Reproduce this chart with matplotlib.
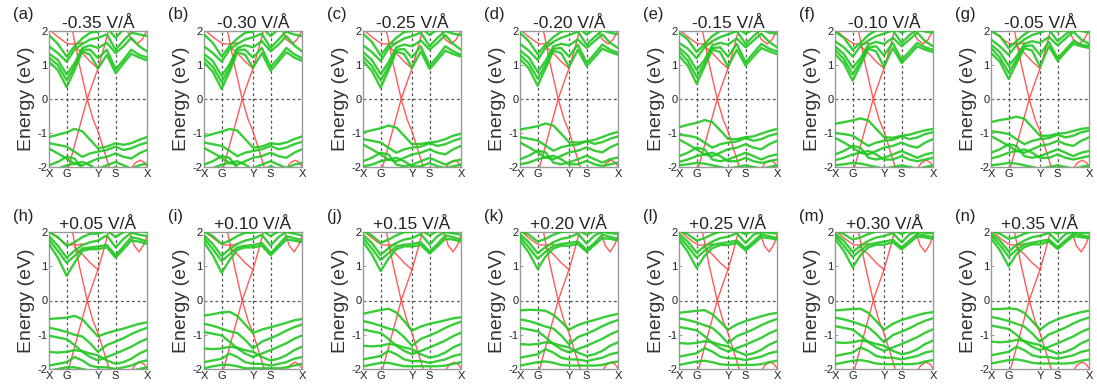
import matplotlib
matplotlib.use("Agg")
import matplotlib.pyplot as plt

plt.rcParams['font.family'] = ['Liberation Sans', 'DejaVu Sans']

# k-path sample positions: X, ., G, ., ., ., Y, ., S, ., ., ., X
K = [0.0, 0.09, 0.18, 0.26, 0.34, 0.42, 0.50, 0.59, 0.68, 0.76, 0.84, 0.92, 1.0]
K_TICKS = [0.0, 0.18, 0.50, 0.68, 1.0]
K_LABELS = ['X', 'G', 'Y', 'S', 'X']
E_TICKS = [-2, -1, 0, 1, 2]

LETTERS = ['(a)', '(b)', '(c)', '(d)', '(e)', '(f)', '(g)',
           '(h)', '(i)', '(j)', '(k)', '(l)', '(m)', '(n)']
FIELDS = ['-0.35 V/Å', '-0.30 V/Å', '-0.25 V/Å', '-0.20 V/Å', '-0.15 V/Å', '-0.10 V/Å', '-0.05 V/Å',
          '+0.05 V/Å', '+0.10 V/Å', '+0.15 V/Å', '+0.20 V/Å', '+0.25 V/Å', '+0.30 V/Å', '+0.35 V/Å']

# ---- green conduction bands (eV at K) ----
COND_A = [[1.10, 0.85, 0.35, 0.85, 1.40, 1.30, 0.90, 1.30, 0.76, 1.05, 1.33, 1.22, 1.14],
          [1.22, 1.00, 0.55, 0.95, 1.45, 1.45, 1.20, 1.45, 0.88, 1.15, 1.45, 1.30, 1.22],
          [1.33, 1.15, 0.72, 1.05, 1.50, 1.58, 1.50, 1.65, 1.35, 1.55, 1.80, 1.55, 1.40],
          [1.55, 1.35, 1.10, 1.45, 1.62, 1.75, 1.80, 1.90, 1.45, 1.72, 1.95, 1.90, 1.85],
          [1.88, 1.62, 1.25, 1.55, 1.78, 1.95, 1.98, 2.10, 1.80, 2.05, 2.10, 2.05, 2.05]]
COND_B = [[1.08, 0.80, 0.30, 0.80, 1.38, 1.30, 0.92, 1.35, 0.83, 1.10, 1.38, 1.22, 1.12],
          [1.20, 0.95, 0.50, 0.92, 1.45, 1.45, 1.22, 1.50, 0.95, 1.20, 1.50, 1.32, 1.20],
          [1.32, 1.12, 0.68, 1.02, 1.50, 1.58, 1.52, 1.70, 1.40, 1.60, 1.85, 1.58, 1.40],
          [1.55, 1.35, 1.10, 1.45, 1.62, 1.75, 1.82, 1.92, 1.50, 1.75, 1.98, 1.90, 1.85],
          [1.90, 1.65, 1.25, 1.55, 1.78, 1.95, 1.98, 2.10, 1.85, 2.05, 2.10, 2.05, 2.05]]
COND_C = [[1.12, 0.83, 0.33, 0.85, 1.40, 1.32, 0.92, 1.40, 0.88, 1.15, 1.42, 1.32, 1.25],
          [1.25, 0.98, 0.54, 0.95, 1.45, 1.47, 1.22, 1.55, 0.98, 1.25, 1.55, 1.40, 1.30],
          [1.38, 1.15, 0.73, 1.08, 1.52, 1.60, 1.55, 1.72, 1.45, 1.65, 1.88, 1.62, 1.45],
          [1.58, 1.38, 1.12, 1.48, 1.65, 1.78, 1.85, 1.95, 1.55, 1.80, 2.00, 1.92, 1.88],
          [1.92, 1.68, 1.28, 1.58, 1.80, 1.97, 2.00, 2.10, 1.88, 2.05, 2.10, 2.05, 2.05]]
COND_D = [[1.18, 0.90, 0.39, 0.90, 1.42, 1.35, 0.95, 1.45, 0.97, 1.22, 1.48, 1.38, 1.30],
          [1.30, 1.05, 0.60, 1.00, 1.48, 1.50, 1.25, 1.60, 1.07, 1.32, 1.60, 1.45, 1.36],
          [1.42, 1.22, 0.80, 1.12, 1.55, 1.62, 1.58, 1.75, 1.50, 1.70, 1.90, 1.65, 1.50],
          [1.62, 1.42, 1.15, 1.50, 1.68, 1.80, 1.88, 1.98, 1.60, 1.82, 2.02, 1.95, 1.90],
          [1.95, 1.70, 1.32, 1.60, 1.82, 1.98, 2.02, 2.10, 1.90, 2.05, 2.10, 2.05, 2.05]]
COND_E = [[1.27, 0.98, 0.45, 0.95, 1.45, 1.38, 0.95, 1.45, 0.98, 1.25, 1.50, 1.40, 1.32],
          [1.41, 1.12, 0.65, 1.05, 1.50, 1.52, 1.25, 1.62, 1.08, 1.35, 1.62, 1.48, 1.40],
          [1.51, 1.28, 0.85, 1.15, 1.58, 1.65, 1.60, 1.78, 1.52, 1.72, 1.92, 1.68, 1.52],
          [1.65, 1.48, 1.20, 1.52, 1.70, 1.82, 1.90, 2.00, 1.62, 1.85, 2.05, 1.95, 1.92],
          [1.95, 1.75, 1.38, 1.62, 1.85, 2.00, 2.05, 2.10, 1.92, 2.05, 2.10, 2.05, 2.05]]
COND_F = [[1.32, 1.05, 0.54, 1.00, 1.48, 1.40, 0.95, 1.50, 1.06, 1.30, 1.55, 1.45, 1.38],
          [1.45, 1.18, 0.72, 1.10, 1.52, 1.55, 1.28, 1.65, 1.15, 1.40, 1.65, 1.52, 1.45],
          [1.55, 1.32, 0.92, 1.20, 1.60, 1.68, 1.62, 1.80, 1.55, 1.75, 1.95, 1.70, 1.55],
          [1.70, 1.52, 1.25, 1.55, 1.72, 1.85, 1.92, 2.02, 1.65, 1.88, 2.05, 1.98, 1.95],
          [1.98, 1.80, 1.45, 1.65, 1.88, 2.02, 2.05, 2.10, 1.95, 2.05, 2.10, 2.05, 2.05]]
COND_G = [[1.35, 1.10, 0.59, 1.05, 1.50, 1.42, 0.95, 1.55, 1.12, 1.38, 1.62, 1.55, 1.50],
          [1.50, 1.22, 0.78, 1.15, 1.55, 1.58, 1.30, 1.68, 1.20, 1.45, 1.70, 1.60, 1.55],
          [1.60, 1.38, 0.98, 1.25, 1.62, 1.70, 1.65, 1.82, 1.58, 1.78, 1.98, 1.75, 1.62],
          [1.75, 1.55, 1.30, 1.58, 1.75, 1.88, 1.95, 2.05, 1.70, 1.90, 2.08, 2.00, 1.95],
          [2.00, 1.85, 1.50, 1.70, 1.90, 2.05, 2.05, 2.10, 1.98, 2.05, 2.10, 2.05, 2.05]]
COND_H = [[1.65, 1.25, 0.72, 1.10, 1.45, 1.50, 1.50, 1.55, 1.25, 1.50, 1.75, 1.72, 1.65],
          [1.78, 1.45, 1.10, 1.30, 1.52, 1.55, 1.58, 1.62, 1.32, 1.58, 1.85, 1.80, 1.72],
          [1.88, 1.60, 1.25, 1.45, 1.62, 1.70, 1.75, 1.90, 1.55, 1.80, 1.98, 1.92, 1.88],
          [2.00, 1.85, 1.60, 1.70, 1.85, 1.95, 1.95, 2.05, 1.85, 2.00, 2.08, 2.05, 2.00]]
COND_I = [[1.70, 1.32, 0.81, 1.18, 1.48, 1.55, 1.55, 1.60, 1.32, 1.55, 1.78, 1.75, 1.70],
          [1.82, 1.50, 1.15, 1.35, 1.55, 1.60, 1.62, 1.68, 1.38, 1.62, 1.88, 1.82, 1.76],
          [1.90, 1.65, 1.30, 1.50, 1.65, 1.75, 1.80, 1.92, 1.60, 1.85, 2.00, 1.95, 1.90],
          [2.02, 1.88, 1.65, 1.75, 1.88, 1.98, 1.98, 2.05, 1.88, 2.02, 2.08, 2.05, 2.02]]
COND_J = [[1.72, 1.35, 0.86, 1.22, 1.50, 1.58, 1.58, 1.62, 1.37, 1.58, 1.80, 1.78, 1.72],
          [1.84, 1.52, 1.18, 1.38, 1.58, 1.63, 1.65, 1.70, 1.43, 1.65, 1.90, 1.85, 1.78],
          [1.92, 1.68, 1.33, 1.53, 1.68, 1.78, 1.82, 1.94, 1.63, 1.88, 2.00, 1.96, 1.92],
          [2.03, 1.90, 1.68, 1.78, 1.90, 2.00, 2.00, 2.06, 1.90, 2.03, 2.08, 2.05, 2.03]]
COND_K = [[1.75, 1.40, 0.92, 1.28, 1.52, 1.60, 1.60, 1.65, 1.42, 1.62, 1.82, 1.80, 1.75],
          [1.86, 1.55, 1.22, 1.42, 1.60, 1.65, 1.68, 1.72, 1.48, 1.68, 1.92, 1.86, 1.80],
          [1.94, 1.70, 1.38, 1.56, 1.70, 1.80, 1.84, 1.95, 1.66, 1.90, 2.00, 1.97, 1.94],
          [2.04, 1.92, 1.72, 1.80, 1.92, 2.00, 2.02, 2.06, 1.92, 2.03, 2.08, 2.05, 2.04]]
COND_L = [[1.78, 1.42, 0.95, 1.30, 1.53, 1.62, 1.62, 1.68, 1.46, 1.65, 1.85, 1.82, 1.78],
          [1.88, 1.58, 1.25, 1.45, 1.62, 1.67, 1.70, 1.75, 1.52, 1.72, 1.93, 1.88, 1.82],
          [1.95, 1.72, 1.40, 1.58, 1.72, 1.82, 1.86, 1.96, 1.68, 1.92, 2.00, 1.98, 1.95],
          [2.05, 1.93, 1.75, 1.82, 1.93, 2.01, 2.03, 2.06, 1.93, 2.04, 2.08, 2.05, 2.05]]
COND_M = [[1.80, 1.45, 0.97, 1.32, 1.55, 1.63, 1.63, 1.70, 1.49, 1.68, 1.87, 1.84, 1.80],
          [1.90, 1.60, 1.27, 1.47, 1.63, 1.68, 1.72, 1.77, 1.55, 1.75, 1.94, 1.90, 1.85],
          [1.96, 1.74, 1.42, 1.60, 1.74, 1.84, 1.88, 1.97, 1.70, 1.93, 2.01, 1.98, 1.96],
          [2.05, 1.94, 1.78, 1.84, 1.94, 2.02, 2.04, 2.06, 1.94, 2.04, 2.08, 2.05, 2.05]]
COND_N = [[1.82, 1.47, 1.00, 1.35, 1.56, 1.64, 1.64, 1.72, 1.50, 1.70, 1.88, 1.85, 1.82],
          [1.92, 1.62, 1.28, 1.48, 1.64, 1.69, 1.73, 1.78, 1.56, 1.76, 1.95, 1.91, 1.86],
          [1.97, 1.75, 1.43, 1.62, 1.75, 1.85, 1.89, 1.97, 1.72, 1.94, 2.01, 1.98, 1.97],
          [2.05, 1.95, 1.80, 1.85, 1.95, 2.02, 2.04, 2.06, 1.95, 2.04, 2.08, 2.05, 2.05]]

# ---- green valence bands (eV at K) ----
VAL_A = [[-1.12, -1.05, -0.98, -0.88, -0.95, -1.20, -1.45, -1.40, -1.30, -1.35, -1.30, -1.20, -1.12],
         [-1.30, -1.35, -1.40, -1.55, -1.70, -1.60, -1.55, -1.50, -1.40, -1.50, -1.45, -1.35, -1.28],
         [-1.46, -1.60, -1.75, -1.90, -1.95, -1.85, -1.75, -1.70, -1.60, -1.70, -1.75, -1.60, -1.50],
         [-1.95, -1.85, -1.70, -1.75, -2.05, -2.10, -2.05, -1.95, -1.85, -1.95, -2.05, -1.95, -1.90],
         [-2.10, -2.05, -1.95, -1.90, -1.85, -1.95, -2.10, -2.10, -2.00, -2.10, -2.15, -2.10, -2.05]]
VAL_B = [[-1.10, -1.03, -0.96, -0.88, -0.93, -1.18, -1.43, -1.40, -1.30, -1.33, -1.28, -1.18, -1.10],
         [-1.28, -1.33, -1.38, -1.52, -1.68, -1.58, -1.53, -1.48, -1.38, -1.48, -1.43, -1.33, -1.26],
         [-1.44, -1.58, -1.73, -1.88, -1.93, -1.83, -1.73, -1.68, -1.58, -1.68, -1.73, -1.58, -1.48],
         [-1.93, -1.83, -1.68, -1.73, -2.03, -2.08, -2.03, -1.93, -1.83, -1.93, -2.03, -1.93, -1.88],
         [-2.08, -2.03, -1.93, -1.88, -1.83, -1.93, -2.08, -2.08, -1.98, -2.08, -2.13, -2.08, -2.03]]
VAL_C = [[-0.98, -0.92, -0.86, -0.78, -0.84, -1.08, -1.33, -1.32, -1.28, -1.25, -1.18, -1.08, -1.02],
         [-1.18, -1.23, -1.28, -1.43, -1.58, -1.48, -1.43, -1.40, -1.30, -1.38, -1.33, -1.23, -1.16],
         [-1.34, -1.48, -1.63, -1.78, -1.83, -1.73, -1.63, -1.58, -1.48, -1.58, -1.63, -1.48, -1.38],
         [-1.83, -1.73, -1.58, -1.63, -1.93, -1.98, -1.93, -1.83, -1.73, -1.83, -1.93, -1.83, -1.78],
         [-1.98, -1.93, -1.83, -1.78, -1.73, -1.83, -1.98, -1.98, -1.88, -1.98, -2.03, -1.98, -1.93]]
VAL_D = [[-0.90, -0.85, -0.80, -0.72, -0.78, -1.02, -1.27, -1.28, -1.25, -1.20, -1.12, -1.03, -0.97],
         [-1.12, -1.17, -1.22, -1.37, -1.52, -1.42, -1.37, -1.34, -1.24, -1.32, -1.27, -1.17, -1.10],
         [-1.28, -1.42, -1.57, -1.72, -1.77, -1.67, -1.57, -1.52, -1.42, -1.52, -1.57, -1.42, -1.32],
         [-1.77, -1.67, -1.52, -1.57, -1.87, -1.92, -1.87, -1.77, -1.67, -1.77, -1.87, -1.77, -1.72],
         [-1.92, -1.87, -1.77, -1.72, -1.67, -1.77, -1.92, -1.92, -1.82, -1.92, -1.97, -1.92, -1.87]]
VAL_E = [[-0.83, -0.76, -0.70, -0.62, -0.68, -0.92, -1.17, -1.18, -1.12, -1.10, -1.02, -0.94, -0.88],
         [-1.05, -1.08, -1.13, -1.28, -1.43, -1.33, -1.28, -1.25, -1.15, -1.23, -1.18, -1.08, -1.02],
         [-1.19, -1.33, -1.48, -1.63, -1.68, -1.58, -1.48, -1.43, -1.33, -1.43, -1.48, -1.33, -1.23],
         [-1.68, -1.58, -1.43, -1.48, -1.78, -1.83, -1.78, -1.68, -1.58, -1.68, -1.78, -1.68, -1.63],
         [-1.85, -1.78, -1.68, -1.63, -1.58, -1.68, -1.83, -1.83, -1.73, -1.83, -1.88, -1.83, -1.78],
         [-1.95, -1.92, -1.88, -1.90, -1.95, -2.00, -2.05, -2.00, -1.95, -2.00, -2.05, -2.00, -1.95]]
VAL_F = [[-0.73, -0.68, -0.63, -0.57, -0.63, -0.88, -1.12, -1.14, -1.08, -1.05, -0.98, -0.92, -0.88],
         [-1.00, -1.03, -1.08, -1.23, -1.38, -1.28, -1.23, -1.20, -1.10, -1.18, -1.13, -1.03, -0.98],
         [-1.14, -1.28, -1.43, -1.58, -1.63, -1.53, -1.43, -1.38, -1.28, -1.38, -1.43, -1.28, -1.18],
         [-1.63, -1.53, -1.38, -1.43, -1.73, -1.78, -1.73, -1.63, -1.53, -1.63, -1.73, -1.63, -1.58],
         [-1.80, -1.73, -1.63, -1.58, -1.53, -1.63, -1.78, -1.78, -1.68, -1.78, -1.83, -1.78, -1.73],
         [-1.95, -1.92, -1.88, -1.90, -1.95, -2.00, -2.05, -2.00, -1.95, -2.00, -2.05, -2.00, -1.95]]
VAL_G = [[-0.68, -0.62, -0.58, -0.52, -0.58, -0.83, -1.08, -1.08, -1.02, -1.00, -0.94, -0.88, -0.85],
         [-0.95, -0.98, -1.03, -1.18, -1.33, -1.23, -1.18, -1.15, -1.05, -1.13, -1.08, -0.98, -0.93],
         [-1.09, -1.23, -1.38, -1.53, -1.58, -1.48, -1.38, -1.33, -1.23, -1.33, -1.38, -1.23, -1.13],
         [-1.58, -1.48, -1.33, -1.38, -1.68, -1.73, -1.68, -1.58, -1.48, -1.58, -1.68, -1.58, -1.53],
         [-1.75, -1.68, -1.58, -1.53, -1.48, -1.58, -1.73, -1.73, -1.63, -1.73, -1.78, -1.73, -1.68],
         [-1.95, -1.92, -1.88, -1.90, -1.95, -2.00, -2.05, -2.00, -1.95, -2.00, -2.05, -2.00, -1.95]]
VAL_H = [[-0.54, -0.52, -0.50, -0.45, -0.55, -0.80, -1.05, -0.95, -0.88, -0.82, -0.75, -0.68, -0.64],
         [-0.79, -0.85, -0.92, -1.00, -1.05, -1.25, -1.50, -1.30, -1.20, -1.10, -0.98, -0.88, -0.80],
         [-1.03, -1.08, -1.13, -1.30, -1.50, -1.65, -1.75, -1.65, -1.55, -1.45, -1.35, -1.22, -1.12],
         [-1.50, -1.52, -1.50, -1.45, -1.48, -1.55, -1.60, -1.75, -1.85, -1.80, -1.70, -1.55, -1.45],
         [-1.90, -1.85, -1.80, -1.65, -1.75, -1.90, -1.95, -1.95, -2.00, -1.95, -1.90, -1.80, -1.75],
         [-2.05, -2.00, -1.95, -1.95, -2.00, -2.05, -2.05, -2.05, -2.05, -2.05, -2.05, -2.00, -1.95]]
VAL_I = [[-0.44, -0.40, -0.35, -0.33, -0.45, -0.70, -0.95, -0.85, -0.78, -0.72, -0.65, -0.58, -0.54],
         [-0.68, -0.74, -0.82, -0.90, -0.95, -1.15, -1.40, -1.20, -1.10, -1.00, -0.88, -0.78, -0.70],
         [-0.92, -0.97, -1.02, -1.20, -1.40, -1.55, -1.65, -1.55, -1.45, -1.35, -1.25, -1.12, -1.02],
         [-1.40, -1.42, -1.40, -1.35, -1.38, -1.45, -1.50, -1.65, -1.75, -1.70, -1.60, -1.45, -1.35],
         [-1.80, -1.75, -1.70, -1.55, -1.65, -1.80, -1.85, -1.85, -1.90, -1.85, -1.80, -1.70, -1.65],
         [-1.98, -1.92, -1.88, -1.88, -1.92, -1.98, -1.98, -1.98, -1.98, -1.98, -1.95, -1.90, -1.85]]
VAL_J = [[-0.39, -0.33, -0.28, -0.24, -0.35, -0.60, -0.88, -0.76, -0.68, -0.63, -0.58, -0.52, -0.49],
         [-0.60, -0.66, -0.74, -0.82, -0.87, -1.07, -1.32, -1.12, -1.02, -0.92, -0.80, -0.70, -0.62],
         [-0.85, -0.90, -0.95, -1.12, -1.32, -1.47, -1.57, -1.47, -1.37, -1.27, -1.17, -1.04, -0.94],
         [-1.32, -1.34, -1.32, -1.27, -1.30, -1.37, -1.42, -1.57, -1.67, -1.62, -1.52, -1.37, -1.27],
         [-1.72, -1.67, -1.62, -1.47, -1.57, -1.72, -1.77, -1.77, -1.82, -1.77, -1.72, -1.62, -1.57],
         [-1.92, -1.87, -1.82, -1.82, -1.87, -1.92, -1.92, -1.92, -1.92, -1.92, -1.90, -1.85, -1.80]]
VAL_K = [[-0.29, -0.27, -0.28, -0.30, -0.42, -0.62, -0.85, -0.72, -0.63, -0.57, -0.50, -0.44, -0.39],
         [-0.55, -0.60, -0.68, -0.76, -0.82, -1.02, -1.28, -1.07, -0.97, -0.87, -0.75, -0.65, -0.57],
         [-0.80, -0.85, -0.90, -1.07, -1.27, -1.42, -1.52, -1.42, -1.32, -1.22, -1.12, -0.99, -0.89],
         [-1.27, -1.29, -1.27, -1.22, -1.25, -1.32, -1.37, -1.52, -1.62, -1.57, -1.47, -1.32, -1.22],
         [-1.67, -1.62, -1.57, -1.42, -1.52, -1.67, -1.72, -1.72, -1.77, -1.72, -1.67, -1.57, -1.52],
         [-1.90, -1.85, -1.80, -1.78, -1.82, -1.88, -1.90, -1.90, -1.90, -1.90, -1.88, -1.82, -1.78]]
VAL_L = [[-0.36, -0.33, -0.30, -0.28, -0.40, -0.62, -0.85, -0.70, -0.60, -0.53, -0.46, -0.40, -0.36],
         [-0.52, -0.57, -0.64, -0.72, -0.80, -1.00, -1.25, -1.04, -0.94, -0.84, -0.72, -0.62, -0.54],
         [-0.77, -0.82, -0.87, -1.04, -1.24, -1.39, -1.49, -1.39, -1.29, -1.19, -1.09, -0.96, -0.86],
         [-1.24, -1.26, -1.24, -1.19, -1.22, -1.29, -1.34, -1.49, -1.59, -1.54, -1.44, -1.29, -1.19],
         [-1.64, -1.59, -1.54, -1.39, -1.49, -1.64, -1.69, -1.69, -1.74, -1.69, -1.64, -1.54, -1.49],
         [-1.88, -1.83, -1.78, -1.76, -1.80, -1.86, -1.88, -1.88, -1.88, -1.88, -1.86, -1.80, -1.76]]
VAL_M = [[-0.29, -0.27, -0.25, -0.24, -0.36, -0.60, -0.85, -0.68, -0.57, -0.50, -0.43, -0.37, -0.34],
         [-0.50, -0.55, -0.62, -0.70, -0.78, -0.98, -1.22, -1.01, -0.91, -0.81, -0.69, -0.59, -0.52],
         [-0.75, -0.80, -0.85, -1.02, -1.22, -1.37, -1.47, -1.37, -1.27, -1.17, -1.07, -0.94, -0.84],
         [-1.22, -1.24, -1.22, -1.17, -1.20, -1.27, -1.32, -1.47, -1.57, -1.52, -1.42, -1.27, -1.17],
         [-1.62, -1.57, -1.52, -1.37, -1.47, -1.62, -1.67, -1.67, -1.72, -1.67, -1.62, -1.52, -1.47],
         [-1.86, -1.81, -1.76, -1.74, -1.78, -1.84, -1.86, -1.86, -1.86, -1.86, -1.84, -1.78, -1.74]]
VAL_N = [[-0.25, -0.25, -0.23, -0.25, -0.36, -0.60, -0.85, -0.66, -0.55, -0.47, -0.40, -0.34, -0.30],
         [-0.48, -0.53, -0.60, -0.68, -0.76, -0.96, -1.20, -0.99, -0.89, -0.79, -0.67, -0.57, -0.50],
         [-0.73, -0.78, -0.83, -1.00, -1.20, -1.35, -1.45, -1.35, -1.25, -1.15, -1.05, -0.92, -0.82],
         [-1.20, -1.22, -1.20, -1.15, -1.18, -1.25, -1.30, -1.45, -1.55, -1.50, -1.40, -1.25, -1.15],
         [-1.60, -1.55, -1.50, -1.35, -1.45, -1.60, -1.65, -1.65, -1.70, -1.65, -1.60, -1.50, -1.45],
         [-1.84, -1.79, -1.74, -1.72, -1.76, -1.82, -1.84, -1.84, -1.84, -1.84, -1.82, -1.76, -1.72]]

# ---- red (Dirac-like) bands, similar in every panel ----
RED_DOWN_K = [0.24, 0.31, 0.39, 0.45, 0.50, 0.56, 0.62]
RED_DOWN_E = [2.00, 1.00, 0.00, -0.60, -0.95, -1.50, -2.05]
RED_UP_K = [0.20, 0.30, 0.39, 0.45, 0.50, 0.56, 0.61]
RED_UP_E = [-2.00, -0.95, 0.00, 0.50, 0.90, 1.50, 2.05]
RED_Y_K = [0.26, 0.34, 0.42, 0.50]
RED_Y_E = [1.55, 1.35, 1.10, 0.90]
RED_TL_K = [0.00, 0.08, 0.16, 0.20, 0.28, 0.34]
RED_TL_E = [2.05, 1.85, 1.68, 1.62, 1.62, 1.65]
RED_TR_NEG_K = [0.79, 0.84, 0.90, 0.95, 1.00]
RED_TR_NEG_E = [2.05, 1.75, 1.62, 1.75, 2.02]
RED_TR_POS_K = [0.82, 0.87, 0.92, 0.97, 1.00]
RED_TR_POS_E = [2.05, 1.60, 1.42, 1.65, 1.90]
RED_BR_K = [0.84, 0.88, 0.93, 0.97, 1.00]
RED_BR_E = [-2.05, -1.88, -1.80, -1.86, -1.98]

PANELS = [(COND_A, VAL_A), (COND_B, VAL_B), (COND_C, VAL_C), (COND_D, VAL_D),
          (COND_E, VAL_E), (COND_F, VAL_F), (COND_G, VAL_G),
          (COND_H, VAL_H), (COND_I, VAL_I), (COND_J, VAL_J), (COND_K, VAL_K),
          (COND_L, VAL_L), (COND_M, VAL_M), (COND_N, VAL_N)]

# ---- layout (pixels) ----
W, H = 1097, 392
LEFTS = [49, 204, 363, 520, 679, 835, 991]
AX_W = 98
ROWS = [(31, 167), (232, 369)]

GREEN = '#22c822'
RED = '#ff3c3c'

fig = plt.figure(figsize=(W / 100, H / 100), dpi=100)

for i, (cond, val) in enumerate(PANELS):
    r, c = divmod(i, 7)
    top, bot = ROWS[r]
    ax = fig.add_axes([LEFTS[c] / W, (H - bot) / H, AX_W / W, (bot - top) / H])
    ax.set_xlim(0, 1)
    ax.set_ylim(-2, 2)
    for kx in K_TICKS[1:-1]:
        ax.axvline(kx, color='#555555', lw=0.9, ls=(0, (2.2, 2.2)), zorder=1)
    ax.axhline(0, color='#555555', lw=0.9, ls=(0, (2.2, 2.2)), zorder=1)

    # red bands
    tr_k, tr_e = (RED_TR_NEG_K, RED_TR_NEG_E) if r == 0 else (RED_TR_POS_K, RED_TR_POS_E)
    for kk, ee in [(RED_DOWN_K, RED_DOWN_E), (RED_UP_K, RED_UP_E), (RED_Y_K, RED_Y_E),
                   (RED_TL_K, RED_TL_E), (tr_k, tr_e), (RED_BR_K, RED_BR_E)]:
        ax.plot(kk, ee, color=RED, lw=1.0, alpha=0.85, zorder=2,
                solid_joinstyle='round', clip_on=True)
    # green bands
    for band in cond + val:
        ax.plot(K, band, color=GREEN, lw=1.7, alpha=0.9, zorder=3,
                solid_joinstyle='round', solid_capstyle='round')

    ax.set_xticks(K_TICKS)
    ax.set_xticklabels(K_LABELS)
    ax.set_yticks(E_TICKS)
    ax.set_yticklabels([str(t) for t in E_TICKS])
    ax.tick_params(axis='both', direction='in', length=2, width=0.6,
                   colors='#888888', labelcolor='#222222', labelsize=8, pad=1)
    ax.tick_params(axis='x', pad=1.5)
    for sp in ax.spines.values():
        sp.set_color('#999999')
        sp.set_linewidth(1.0)
    ax.set_ylabel('Energy (eV)', fontsize=14, labelpad=2, color='#333333')
    ax.set_title(FIELDS[i], fontsize=12.5, pad=1.5, color='#222222')
    fig.text((LEFTS[c] - 36) / W, (H - (top - 16)) / H, LETTERS[i],
             fontsize=12, ha='left', va='center', color='#222222')

fig.savefig('out.png', dpi=100)
